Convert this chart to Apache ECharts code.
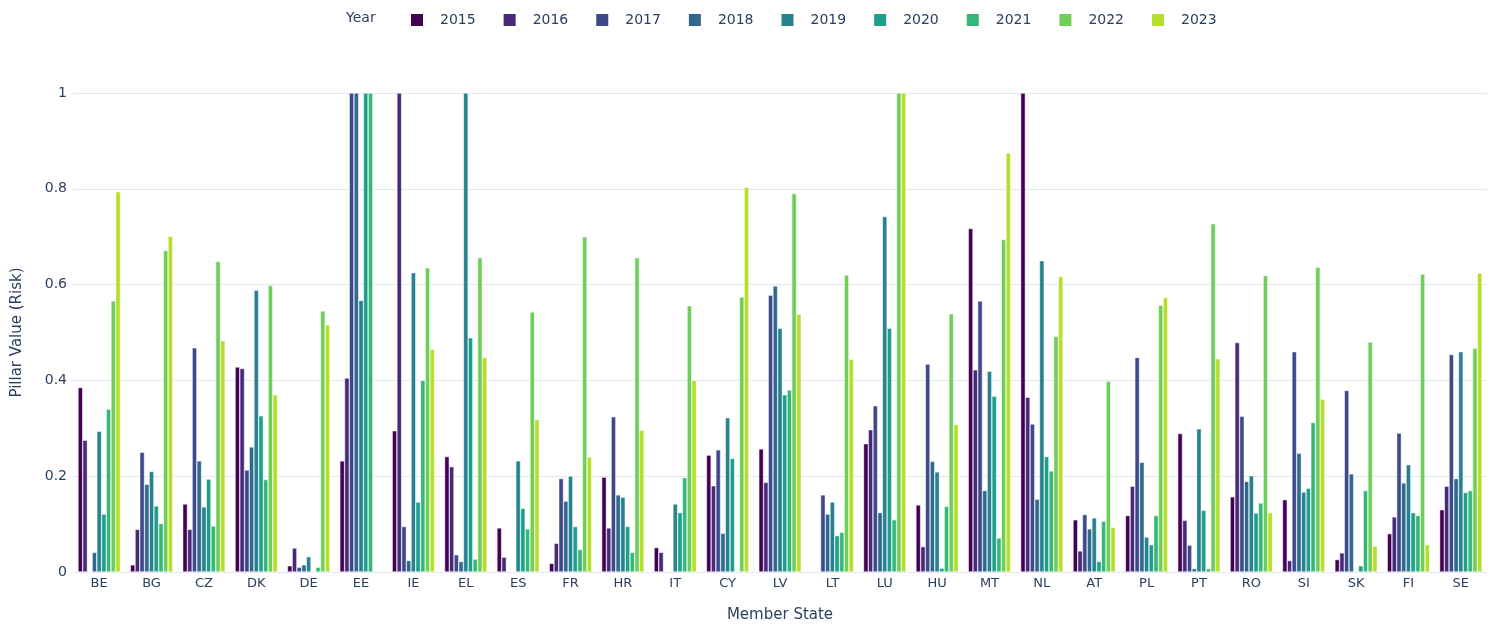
<!DOCTYPE html>
<html>
<head>
<meta charset="utf-8">
<script src="https://cdn.jsdelivr.net/npm/echarts@6/dist/echarts.min.js"></script>
<style>
  html, body { margin: 0; padding: 0; background: #fff; }
  #chart { width: 1495px; height: 628px; }
</style>
</head>
<body>
<div id="chart"></div>
<script>
// Member states on the x axis
var states = ['BE', 'BG', 'CZ', 'DK', 'DE', 'EE', 'IE', 'EL', 'ES', 'FR', 'HR', 'IT', 'CY', 'LV',
              'LT', 'LU', 'HU', 'MT', 'NL', 'AT', 'PL', 'PT', 'RO', 'SI', 'SK', 'FI', 'SE'];
var years = ['2015', '2016', '2017', '2018', '2019', '2020', '2021', '2022', '2023'];
var yTicks = [0, 0.2, 0.4, 0.6, 0.8, 1];

// pillar value per year, one entry per member state (null = no bar)
var v2015 = [0.385, 0.015, 0.142, 0.428, 0.013, 0.232, 0.295, 0.241, 0.092, 0.018, 0.198, 0.051, 0.244, 0.257,
             null, 0.268, 0.14, 0.717, 1, 0.109, 0.118, 0.289, 0.157, 0.151, 0.026, 0.08, 0.13];
var v2016 = [0.275, 0.089, 0.089, 0.425, 0.05, 0.405, 1, 0.22, 0.031, 0.06, 0.092, 0.041, 0.18, 0.187,
             null, 0.297, 0.053, 0.422, 0.365, 0.044, 0.179, 0.108, 0.479, 0.024, 0.04, 0.115, 0.179];
var v2017 = [null, 0.25, 0.468, 0.213, 0.01, 1, 0.095, 0.036, null, 0.195, 0.324, null, 0.255, 0.578,
             0.161, 0.347, 0.434, 0.566, 0.309, 0.12, 0.448, 0.056, 0.325, 0.46, 0.379, 0.29, 0.454];
var v2018 = [0.041, 0.183, 0.232, 0.261, 0.015, 1, 0.024, 0.022, null, 0.148, 0.161, null, 0.081, 0.597,
             0.121, 0.124, 0.231, 0.17, 0.152, 0.09, 0.229, 0.007, 0.189, 0.248, 0.205, 0.186, 0.195];
var v2019 = [0.294, 0.21, 0.136, 0.588, 0.032, 0.567, 0.625, 1, 0.232, 0.2, 0.156, 0.142, 0.322, 0.509,
             0.146, 0.742, 0.209, 0.419, 0.65, 0.113, 0.073, 0.299, 0.201, 0.167, null, 0.224, 0.46];
var v2020 = [0.121, 0.138, 0.194, 0.326, null, 1, 0.146, 0.489, 0.133, 0.095, 0.095, 0.124, 0.237, 0.37,
             0.076, 0.509, 0.008, 0.367, 0.241, 0.022, 0.057, 0.129, 0.123, 0.175, 0.013, 0.124, 0.166];
var v2021 = [0.34, 0.101, 0.096, 0.193, 0.01, 1, 0.4, 0.027, 0.09, 0.047, 0.041, 0.197, null, 0.38,
             0.083, 0.109, 0.137, 0.071, 0.211, 0.106, 0.118, 0.007, 0.144, 0.312, 0.17, 0.118, 0.17];
var v2022 = [0.566, 0.671, 0.648, 0.598, 0.545, null, 0.635, 0.656, 0.543, 0.7, 0.656, 0.556, 0.574, 0.79,
             0.62, 1, 0.539, 0.694, 0.492, 0.398, 0.557, 0.727, 0.619, 0.636, 0.48, 0.622, 0.467];
var v2023 = [0.794, 0.701, 0.483, 0.37, 0.516, null, 0.465, 0.448, 0.318, 0.24, 0.296, 0.4, 0.803, 0.538,
             0.444, 1, 0.308, 0.875, 0.617, 0.093, 0.573, 0.445, 0.124, 0.361, 0.054, 0.057, 0.624];

var values = [v2015, v2016, v2017, v2018, v2019, v2020, v2021, v2022, v2023];
var colors = ['#440154', '#482878', '#3e4989', '#31688e', '#26828e', '#1f9e89', '#35b779', '#6ece58', '#b5de2b'];

var textColor = '#2a3f5f';
var font = 'DejaVu Sans';

var myChart = echarts.init(document.getElementById('chart'));

var series = years.map(function (y, i) {
    return {
        name: y,
        type: 'bar',
        data: values[i],
        barGap: '0%',
        barCategoryGap: '19%',
        itemStyle: { color: colors[i], borderColor: '#fff', borderWidth: 0.5 }
    };
});

var option = {
    animation: false,
    color: colors,
    textStyle: { fontFamily: font, color: textColor },
    title: {
        text: 'Year',
        left: 341,
        top: 6,
        textStyle: { fontFamily: font, fontSize: 14, fontWeight: 'normal', color: textColor }
    },
    legend: {
        data: years,
        left: 404,
        top: 7,
        icon: 'rect',
        itemWidth: 14,
        itemHeight: 14,
        itemGap: 26,
        textStyle: { fontFamily: font, fontSize: 14, color: textColor, padding: [0, 0, 0, 11] }
    },
    grid: { left: 73, right: 8, top: 93, bottom: 56 },
    xAxis: {
        type: 'category',
        data: states,
        name: 'Member State',
        nameLocation: 'middle',
        nameGap: 36,
        nameTextStyle: { fontFamily: font, fontSize: 15, color: textColor },
        axisLine: { show: true, lineStyle: { color: '#e3e7ee' } },
        axisTick: { show: false },
        axisLabel: { fontFamily: font, fontSize: 13, color: textColor, margin: 5 }
    },
    yAxis: {
        type: 'value',
        min: 0,
        max: 1,
        interval: 0.2,
        name: 'Pillar Value (Risk)',
        nameLocation: 'middle',
        nameGap: 48,
        nameTextStyle: { fontFamily: font, fontSize: 15, color: textColor },
        axisLine: { show: false },
        axisTick: { show: false },
        splitLine: { lineStyle: { color: '#e3e7ee', width: 1 } },
        axisLabel: {
            fontFamily: font, fontSize: 14, color: textColor, margin: 6,
            formatter: function (v) {
                return yTicks.indexOf(Math.round(v * 10) / 10) >= 0 ? String(Math.round(v * 10) / 10) : '';
            }
        }
    },
    series: series
};

myChart.setOption(option);
</script>
</body>
</html>
